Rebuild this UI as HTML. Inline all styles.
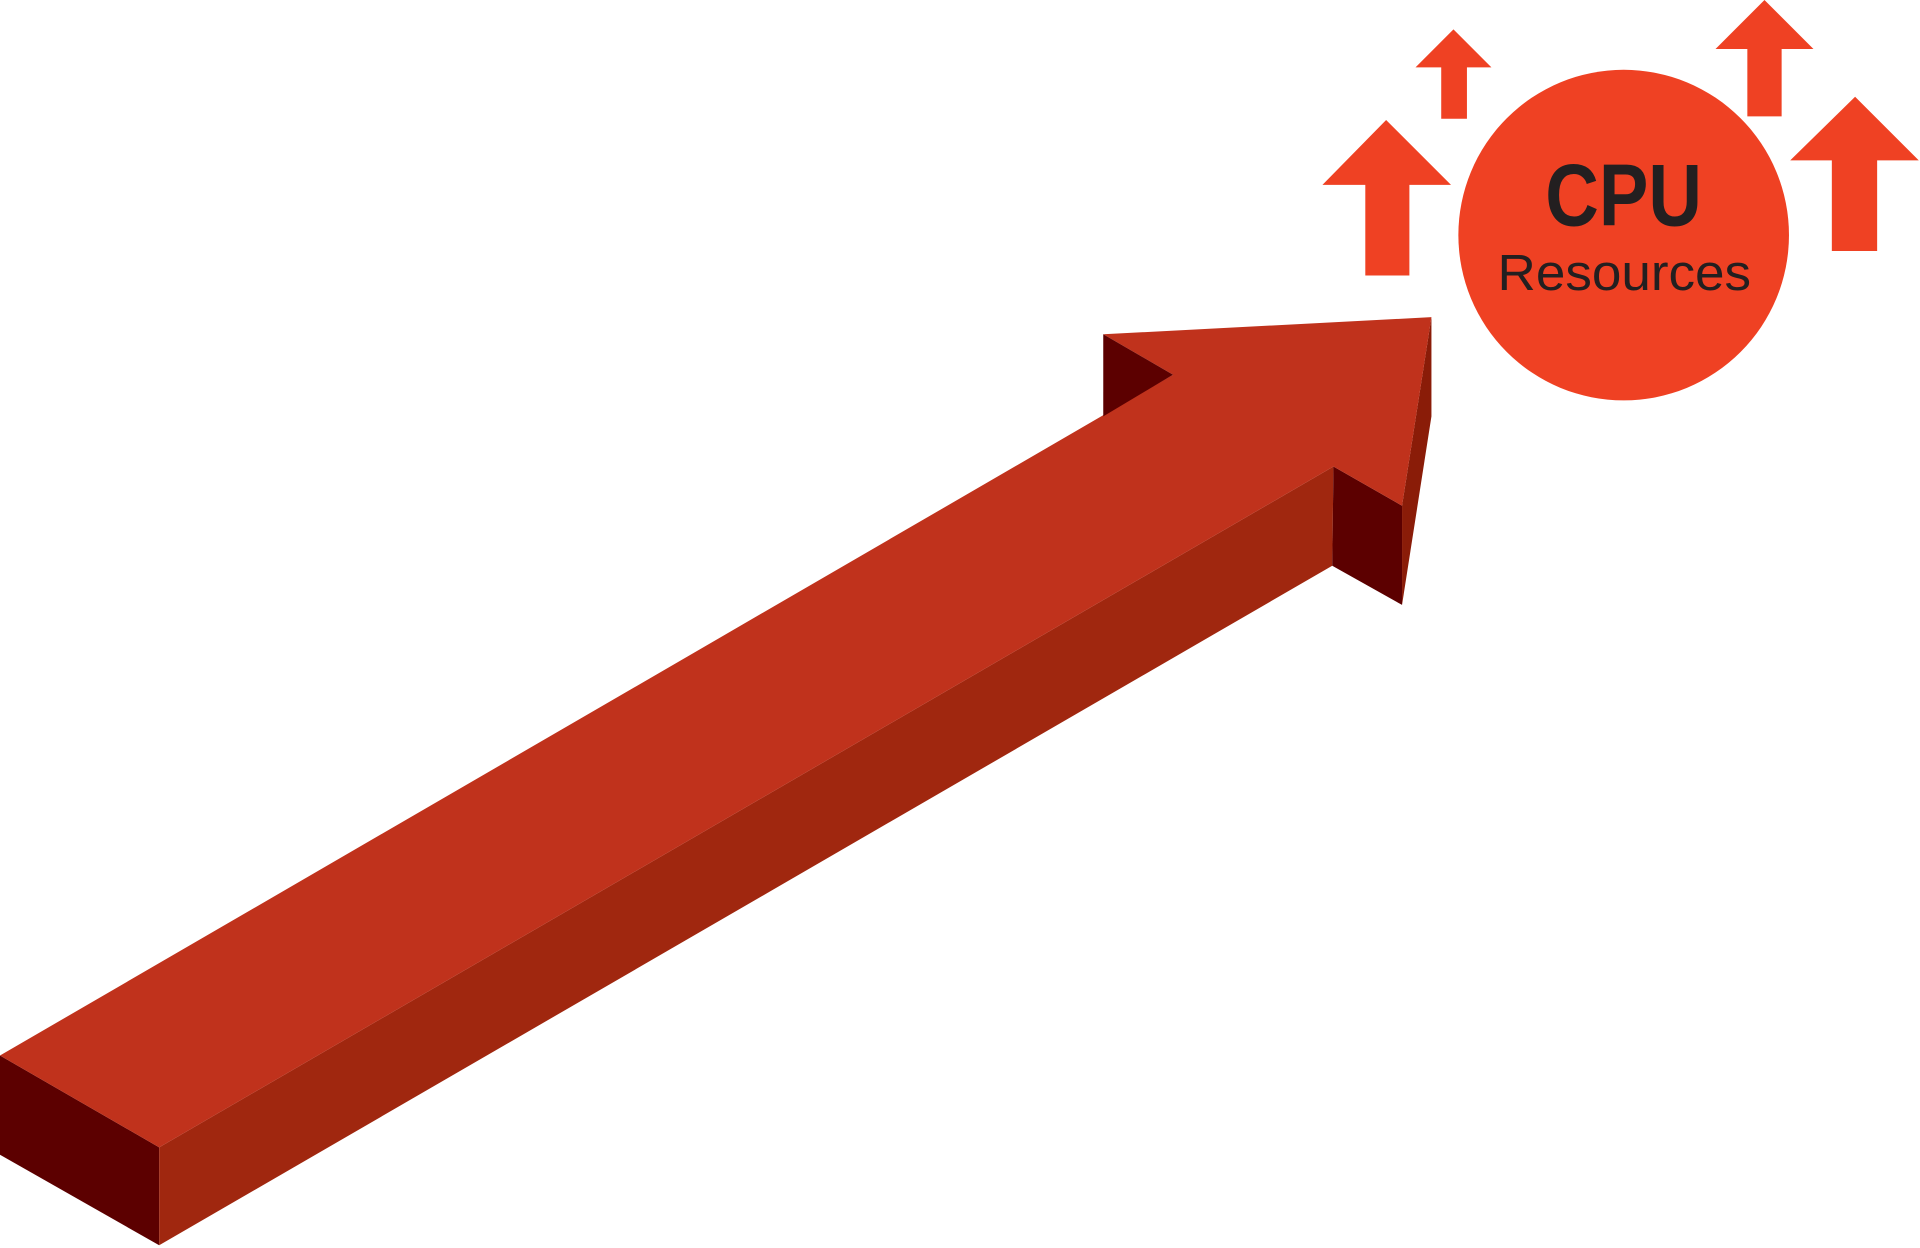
<!DOCTYPE html>
<html><head><meta charset="utf-8"><style>
html,body{margin:0;padding:0;background:#fff;width:1920px;height:1248px;overflow:hidden}
svg{display:block}
</style></head><body>
<svg width="1920" height="1248" viewBox="0 0 1568 1019.2" preserveAspectRatio="none" xmlns="http://www.w3.org/2000/svg">
<polygon points="0,862 130,937 130,1017 0,943" fill="#5c0000"/>
<polygon points="130,937 1089,381 1088,462 130,1017" fill="#a0270f"/>
<polygon points="1089,381 1145,413 1145,494 1088,462" fill="#5c0000"/>
<polygon points="1145,413 1169,259 1169,340 1145,494" fill="#8a1c08"/>
<polygon points="0,862 130,937 1089,381 1145,413 1169,259 901,273 958,306" fill="#c0321c"/>
<polygon points="901,273 958,306 901,340" fill="#5c0000"/>
<circle cx="1326" cy="192" r="135" fill="#ef4123"/>
<text x="1262" y="184" font-family="Liberation Sans Narrow, Liberation Sans, sans-serif" font-weight="bold" font-size="72" fill="#231f20" textLength="128" lengthAdjust="spacingAndGlyphs">CPU</text>
<text x="1223" y="237" font-family="Liberation Sans Narrow, Liberation Sans, sans-serif" font-size="42" fill="#231f20" textLength="207" lengthAdjust="spacingAndGlyphs">Resources</text>
<polygon points="1187,24 1218,55 1198,55 1198,97 1177,97 1177,55 1156,55" fill="#ef4123"/>
<polygon points="1132,98 1185,151 1151,151 1151,225 1115,225 1115,151 1080,151" fill="#ef4123"/>
<polygon points="1441,0 1481,40 1455,40 1455,95 1427,95 1427,40 1401,40" fill="#ef4123"/>
<polygon points="1515,79 1567,131 1533,131 1533,205 1496,205 1496,131 1462,131" fill="#ef4123"/>
</svg>
</body></html>
